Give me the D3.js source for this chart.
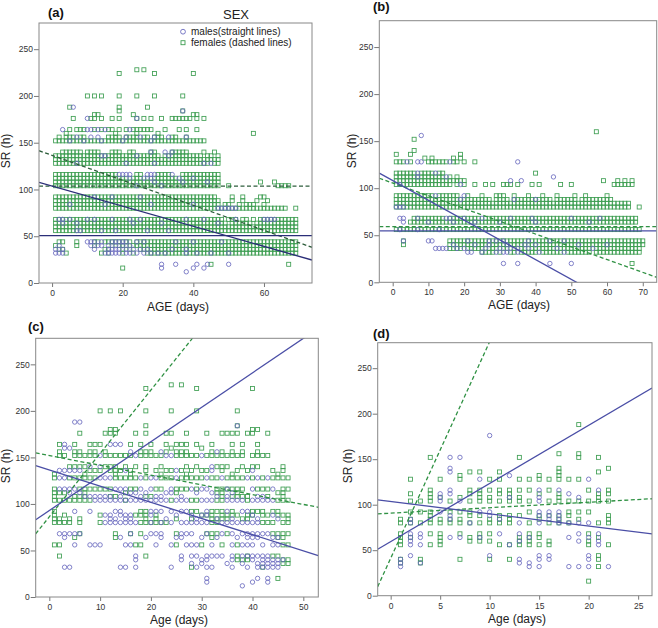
<!DOCTYPE html>
<html><head><meta charset="utf-8">
<script src="https://cdn.jsdelivr.net/npm/d3@7/dist/d3.min.js"></script>
<style>
body{margin:0;background:#fff;}
svg{display:block;font-family:"Liberation Sans",Arial,sans-serif;}
</style></head>
<body>
<svg id="chart" width="658" height="628"></svg>
<script>
// ---------------- DATA ----------------
const yTicks = [0, 50, 100, 150, 200, 250];
const aXTicks = [0, 20, 40, 60];
const bXTicks = [0, 10, 20, 30, 40, 50, 60, 70];
const cXTicks = [0, 10, 20, 30, 40, 50];
const dXTicks = [0, 5, 10, 15, 20, 25];
const panelLabels = ["(a)", "(b)", "(c)", "(d)"];
const xTitles = ["AGE (days)", "AGE (days)", "Age (days)", "Age (days)"];
const yTitle = "SR (h)";
const legendTitle = "SEX";
const legendItems = ["males(straight lines)", "females (dashed lines)"];

// rows: [SR (h), [ages in days]]
const aFemales = [
 [228,[24,26]],[224,[19,29,40]],[200,[10,12,14,19,24,29,37]],[188,[5,19,27]],[184,[19,37]],
 [180,[12,13,23,40,41]],[176,[6,11,12,14,17,19,24,26,28,31,34,35,36,37,38,39,41,43]],
 [164,[5,7,8,9,12,14,16,17,19,21,23,24,25,26,27,28,32,36,38,41]],[160,[4,18,24,30,57]],
 [156,[2,4,5,6,8,9,16,17,18,19,21,22,23,24,26,27,29,30,31,34,35,38]],
 [152,[1,2,3,4,5,6,7,8,9,10,11,12,13,14,15,16,17,18,19,20,21,22,23,24,25,26,27,28,29,30,31,32,33,34,35,36,37,38,39,40,41,42,43]],
 [140,[3,4,5,6,7,8,10,11,12,13,17,18,19,22,23,28,29,34,35,36,37,38,43,46]],
 [136,[1,2,3,4,5,6,7,8,9,10,11,12,13,14,15,16,17,18,19,20,21,22,23,24,25,26,27,28,29,30,32,33,34,35,36,37,38,39,40,41,42,44,45,47]],
 [132,[1,2,3,4,5,6,7,8,9,10,11,12,13,14,15,16,17,18,19,20,21,22,23,24,25,26,27,28,29,30,31,32,33,34,35,36,37,38,39,40,41,42,43,44,45,46,47]],
 [128,[1,2,3,4,5,6,7,8,9,10,11,12,13,14,15,16,17,18,19,20,21,22,23,24,25,26,27,28,29,30,31,32,33,34,35,36,37,38,39,40,41,42,43,44,46,47]],
 [116,[1,2,3,4,5,6,7,8,9,10,11,12,13,14,15,16,17,18,24,25,30,31,32,33,37,38,39,40,41,42,43,44,45,46,47]],
 [112,[1,2,3,4,5,6,7,8,9,10,11,12,13,14,15,16,17,18,19,20,21,23,24,25,27,29,30,31,32,33,34,35,37,38,39,40,41,42,43,44,45,46,47]],
 [108,[1,2,3,4,5,6,7,8,9,10,11,12,13,14,15,16,17,18,19,20,21,22,23,24,25,26,27,28,29,30,31,32,33,34,35,36,37,38,39,40,41,42,43,44,45,46,47,59,63]],
 [104,[1,2,3,4,5,6,7,8,9,10,11,12,13,14,15,16,17,18,19,20,21,22,23,24,25,26,27,28,29,30,31,32,33,34,35,36,37,38,39,40,41,42,43,44,45,46,47,50,64,65,66,67]],
 [92,[1,2,3,4,5,6,7,8,9,10,11,12,13,14,15,16,17,18,19,20,21,22,23,24,25,26,27,28,29,30,31,32,33,34,35,36,37,38,39,40,41,42,43,44,45,46,51,54,59,60]],
 [88,[1,2,3,4,5,6,7,8,9,10,11,12,13,14,15,16,17,18,19,20,21,22,23,24,25,26,27,28,29,30,31,32,33,34,35,36,37,38,39,40,41,42,43,44,45,46,47,51,54,58,61]],
 [84,[1,2,3,4,5,6,7,8,9,10,11,12,13,14,15,16,17,18,19,20,21,22,23,24,25,26,27,28,29,30,31,32,33,34,35,36,37,38,39,40,41,42,43,44,45,46,47,49,50,53,55,56,57,60]],
 [80,[1,2,3,4,5,6,7,8,9,10,11,12,13,14,15,16,17,18,19,20,21,22,23,24,25,26,27,28,29,30,31,32,33,34,35,36,37,38,39,40,41,42,43,44,45,46,47,48,49,50,51,52,53,54,55,56,57,58,59,60,61,62,63,64,65,66,69]],
 [68,[1,2,3,4,5,6,7,8,9,10,11,12,13,14,15,16,17,18,19,20,21,22,23,24,25,26,27,28,29,30,31,32,33,34,35,36,37,38,39,40,41,42,43,44,45,46,47,48,50,51,52,54,55,57,59,60,61,62,63,64,65,66,67,68,69]],
 [64,[1,2,3,4,5,6,7,8,9,10,11,12,13,14,15,16,17,18,19,20,21,22,23,24,25,26,27,28,29,30,31,32,33,34,35,36,37,38,39,40,41,42,43,44,45,46,47,48,49,51,52,53,54,55,56,58,59,60,61,62,63,64,65,66,67,68,69]],
 [60,[1,2,3,4,5,6,7,8,9,10,11,12,13,14,15,16,17,18,19,20,21,22,23,24,25,26,27,28,29,30,31,32,33,34,35,36,37,38,39,40,41,42,43,44,45,46,47,48,49,50,51,52,53,54,55,56,57,58,59,60,61,62,63,64,65,66,67,68,69]],
 [56,[1,2,3,4,5,6,7,8,9,10,11,12,13,14,15,16,17,18,19,20,21,22,23,24,25,26,27,28,29,30,31,32,33,34,35,36,37,38,39,40,41,42,43,44,45,46,47,48,49,50,51,52,53,54,55,56,57,58,59,60,61,62,63,64,65,66,67,68,69]],
 [44,[2,3,7,12,13,15,16,17,18,19,20,21,22,24,25,26,27,28,29,30,31,32,33,34,35,36,37,38,39,40,41,42,43,44,45,46,47,48,49,50,51,52,53,54,55,56,57,58,59,60,61,62,63,64,65,66,67,68,69]],
 [40,[1,7,12,17,19,20,21,23,24,25,26,27,28,29,30,31,32,33,34,35,36,37,38,39,40,41,42,43,44,45,46,47,48,49,50,51,52,53,54,55,56,57,58,59,60,61,62,63,64,65,66,67,68,69]],
 [36,[2,3,15,16,20,22,25,26,27,28,29,30,31,32,33,34,35,36,37,38,39,40,41,42,43,44,45,46,47,48,49,50,51,52,53,54,55,56,57,58,59,60,61,62,63,64,65,66,67,68,69]],
 [32,[4,14,16,20,23,27,28,29,30,31,32,33,34,35,36,37,38,39,40,41,42,43,44,45,46,47,48,49,50,51,52,53,54,55,56,57,58,59,60,61,62,63,64,65,66,67,68,69]],
 [20,[45,67]],[16,[20]]
];
const aMales = [
 [188,[6]],[184,[37]],[176,[10,24]],[164,[3,10,11,13,15,22]],[156,[7,11,13,21,25,29,33,38]],
 [152,[5,9,14,20,28]],[140,[28,32,34]],[136,[14,15,24,33]],[128,[7,21,29,43,45]],
 [116,[19,20,21,22,27,28,29,34]],[112,[22,26,28,36,40]],[108,[29,37,44]],[104,[24,31]],
 [92,[12,17,25]],[84,[5,15,28,40]],[80,[47,48,49,50,51,52]],
 [68,[2,3,5,10,12,17,22,25,38,43,52,60,61,62,63]],[64,[3,7,23,31,47]],[56,[7,8,14,18,27,33]],
 [44,[10,11,12,14,17,18,19,20,21,24,26,35,40,48]],[40,[2,11,13,14,16,18,20,22]],
 [36,[1,3,12,16,17,18,19,21,23,25,27,34,38]],
 [32,[1,2,3,15,16,17,18,19,21,22,24,26,28,30,32,38,41,45,50]],
 [20,[31,35,41,44,50]],[16,[31,40,43]],[12,[38]]
];
const bFemales = [
 [160,[57]],[152,[6]],[140,[6]],[136,[1,5,19]],[132,[9,11,17,19]],
 [128,[1,2,3,5,10,11,12,13,14,15,17,18,20,23]],
 [116,[1,2,3,4,5,6,8,9,10,11,13,14,40]],
 [112,[1,2,3,4,5,6,7,8,9,10,11,12,13,14,16,18]],
 [108,[1,2,3,4,5,6,7,8,9,10,11,12,13,14,15,16,17,18,19,20,59,63,65,67]],
 [104,[1,2,3,4,5,6,7,8,9,10,11,12,13,14,15,16,18,20,23,26,28,31,32,33,35,39,41,47,50,62,63,64,65,66,67]],
 [92,[1,2,3,4,5,6,7,8,9,10,11,13,14,15,16,17,18,21,25,29,30,31,34,38,42,46,51,54,60]],
 [88,[1,2,3,4,5,6,7,8,9,10,11,12,13,14,15,16,17,18,19,20,21,22,23,24,25,26,27,29,30,31,32,34,35,36,37,38,39,40,41,42,43,44,46,47,48,49,50,51,53,54,55,56,57,58,59,60,61]],
 [84,[1,2,3,4,5,6,7,8,9,10,11,12,13,14,15,16,17,18,19,20,21,22,23,24,25,26,27,28,29,30,31,32,33,34,35,36,37,38,39,40,41,42,43,44,45,46,47,48,49,50,51,52,53,54,55,56,57,58,59,60,61,62,63,64,65,66]],
 [80,[1,2,3,4,5,6,7,8,9,10,11,12,13,14,15,16,17,18,19,20,21,22,23,24,25,26,27,28,29,30,31,32,33,34,35,36,37,38,39,40,41,42,43,44,45,46,47,48,49,50,51,52,53,54,55,56,57,58,59,60,61,62,63,64,65,66,69]],
 [68,[6,7,8,9,10,11,12,13,14,16,17,18,19,20,21,22,23,24,26,27,28,29,30,31,32,33,34,35,36,37,38,39,40,41,42,43,44,45,46,47,48,49,50,51,52,53,54,55,56,57,58,59,60,61,62,63,64,65,66,67,68]],
 [64,[5,6,7,8,9,10,11,12,13,14,15,16,17,18,19,20,21,22,23,24,25,26,27,28,29,30,31,32,33,34,35,36,37,38,39,40,41,42,43,44,45,46,47,48,49,50,51,52,53,54,55,56,57,58,59,60,61,62,63,64,65,66,67,68]],
 [56,[1,2,3,4,5,6,7,8,9,10,11,12,13,14,15,16,17,18,19,20,21,22,23,24,25,26,27,28,29,30,31,32,33,34,35,36,37,38,39,40,41,42,43,44,45,46,47,48,49,50,51,52,53,54,55,56,57,58,59,60,61,62,63,64,65,66,67,68,69]],
 [44,[3,16,17,18,19,20,21,22,23,24,25,26,27,28,29,30,31,32,33,34,35,36,37,38,39,40,41,42,43,44,45,46,47,48,49,50,51,52,53,54,55,56,57,58,59,60,61,62,63,64,65,66,67,68,69,70]],
 [40,[3,16,17,18,19,20,21,22,23,24,25,26,27,28,29,30,31,32,33,34,35,36,37,38,39,40,41,42,43,44,45,46,47,48,49,50,51,52,53,54,55,56,57,58,59,60,61,62,63,64,65,66,67,68,69,70]],
 [36,[16,17,18,19,21,22,23,24,25,27,28,29,31,32,34,36,37,39,40,41,42,43,44,45,47,48,49,50,51,52,53,54,55,57,58,59,60,61,62,63,64,65,66,67,68,69]],
 [32,[25,26,27,28,30,33,34,36,37,38,39,40,42,43,44,45,46,47,49,50,51,52,53,54,55,57,58,59,60,61,62,63,64,65,66,67,68,69]],
 [20,[67]]
];
const bMales = [
 [156,[8]],[128,[4,7,8,16,35]],[116,[7,12]],[112,[7,15,45]],[108,[33,36]],[104,[2,19]],
 [92,[12,20]],[88,[19,34,40]],[80,[1,2,3]],[68,[2,3,7,15,16,20,25,33,39,50,58]],
 [64,[3,10,17,23,30,40,55]],[56,[2,7,13]],[44,[3,10,11,21,27,29,31,38,44,48]],
 [40,[17,23,27,32,37,40,52,60]],[36,[12,13,14,15,18,20,26,30,33,35,38,46,56]],
 [32,[21,22,25,29,31,32,35,41,48]],[20,[31,35,44,50]]
];
const cFemales = [
 [228,[24,26]],[224,[19,29,40]],[200,[10,12,14,19,24,29,37]],[184,[19,37]],[180,[12,13,40,41]],
 [176,[6,11,12,13,17,19,23,24,27,31,34,35,36,37,39,40,43]],
 [164,[2,5,8,9,10,16,18,20,23,25,26,27,29,32,36,38,41]],[160,[24,30]],
 [156,[2,5,6,8,9,11,18,19,20,23,25,26,27,32,34,36,38,41]],
 [152,[2,3,5,6,7,8,9,11,12,13,14,15,16,18,19,20,21,22,25,26,27,28,29,31,32,33,34,35,36,37,38,40,41,42,43]],
 [140,[4,5,6,7,11,12,13,15,17,19,22,27,29,33,34,35,38,40,41,46]],
 [136,[8,9,10,12,13,14,16,19,21,23,24,26,28,30,31,34,37,39,44,46]],
 [132,[1,7,13,16,22,27,36,45]],
 [128,[1,4,5,6,7,8,9,13,14,15,16,17,19,22,23,24,26,27,28,29,30,32,33,35,36,37,38,40,42,44,45,46,47]],
 [116,[1,6,7,8,9,10,11,12,16,17,21,22,25,26,27,29,33,34,35,36,37,38,41,42,43,46,47]],
 [112,[1,2,3,7,15,25,33,34,37,45,46]],
 [108,[1,5,6,7,12,13,19,20,34,36,37,38,39,43,46]],
 [104,[1,2,3,4,5,6,7,8,15,24,28,29,33,34,39,45,46,47]],
 [92,[1,18,19,28,29,32,33,34,36,40,41,42,44,45]],
 [88,[1,3,10,17,18,19,21,30,31,32,34,35,36,37,39,40,42,43,45,46,47]],
 [84,[1,2,4,6,19,21,25,28,32,33,34,35,38,39,47]],
 [80,[1,2,3,4,6,10,18,19,20,21,22,23,32,33,42,43,44,46,47]],
 [68,[6,13,16,18,25,31,32,33,35,44,45,46,47]],[64,[5,13,32,45,46]],
 [56,[1,2,17,18,25,30,34,37,46,47]],[44,[2,19,37,39,44,45]],[40,[37,38,39,46,47]],
 [36,[46,47]],[32,[28,42]],[20,[45]]
];
const cMales = [
 [188,[5,6]],[184,[37]],[164,[3,12,13,14]],[160,[3,4]],[156,[16,22,33]],[152,[10,17,23,24,30]],
 [140,[8,10,32]],[136,[2,3,4,5,6,15,25,32,40]],[128,[2,3,10,11,12,18,20,21,25,31,34,39,41,43]],
 [116,[2,3,4,5,13,14,15,18,20,24,28,30,31,35,40,44]],[112,[4,6,16,17,19,23,24,29,32,36]],
 [108,[7,8,9,10,11,12,14,18,21,22,26,33,35,41,42]],
 [104,[9,10,11,12,13,14,15,16,17,18,19,20,21,22,23,25,26,27,30,31,32,35,36,37,38,40,41,42,43,44]],
 [92,[5,8,13,14,20,21,22,24,26,27,31,35,38,39]],[88,[11,12,14,15,16,20,25,28,30,31,40,44]],
 [84,[12,13,15,16,23,29,33,36,41,45]],
 [80,[11,12,13,14,15,16,17,20,22,24,26,27,28,29,30,31,34,35,36,37,38,39,40,41]],
 [68,[2,3,4,5,6,16,20,21,22,26,27,28,31,34,36,38,39,40,41,42,43]],
 [64,[3,14,19,22,25,26,30,33,37,39,40,41,44,45]],
 [56,[5,8,9,10,15,16,21,24,27,28,29,32,36,38,39,40,42,44,45]],
 [44,[17,26,28,29,31,32,33,34,36,38,39,40,41,42,43]],[40,[17,26,30,31,36,40,42,43,44,45,46]],
 [36,[28,30,35,38,41,42,43,44,45]],[32,[3,4,14,15,17,24,29,31,32,36,39,41,42,43,44,45]],
 [20,[31,41,43]],[16,[31,40,43]],[12,[38]]
];
const dFemales = [
 [188,[19]],[156,[17,19]],[152,[4,13,19,21]],[140,[17,22]],[136,[8,9,11,17,21]],[132,[7,15,17]],
 [128,[2,5,7,10,11,13,14,15,16,17,18,19]],[116,[4,8,9,10,11,12,13,14,16,20,22]],
 [112,[2,4,8,9,11,12,15,17,21,22]],[108,[4,5,7,9,10,12,13,17,21]],
 [104,[2,3,4,6,8,9,10,11,12,13,14,16,17,18,19,20,21,22]],[92,[2,3,4,6,7,8,14,18,19,20]],
 [88,[4,8,9,11,12,13,15,16,17,18,22]],[84,[1,2,4,5,6,7,10,11,12,15,17,19,22]],
 [80,[1,2,3,4,5,6,7,8,9,10,11,12,14,16,17,18,21,22]],[68,[1,4,5,7,9,10,14,15,20]],
 [64,[1,2,5,8,9,13,14,15,21]],[60,[1,5,8,9,10,13,14,16,20]],
 [56,[1,4,5,11,12,13,14,15,16,20,22]],[44,[21]],[40,[1,3,7,10,12,21]],[36,[1,3]],[32,[21]],[16,[20]]
];
const dMales = [
 [176,[10]],[152,[6,7]],[140,[6]],[136,[6]],[132,[12]],[128,[9,20]],[116,[6,15,17,21]],
 [112,[5,6,18]],[108,[5,12,15,19]],[104,[5,7,15]],[92,[5,9,10,15,16,17]],[88,[6,10,15,16,17]],
 [84,[2,6,11,16,17]],[80,[2,8,13,15,17,18,19,20]],[68,[2,3,11,13,19,21]],
 [64,[2,3,6,7,9,14,18,20]],[60,[2,13,19,21]],[56,[2,3,12,21]],[44,[2,10,15,16,20]],
 [40,[1,13,15,16,20]],[36,[1,3,13,14]],[32,[1,14,15,18,19,20,22]]
];
// fitted lines: [intercept, slope]
const aMaleFits = [[103.6, -1.074], [50.6, 0]];
const aFemaleFits = [[136.5, -1.336], [103.6, 0]];
const bMaleFits = [[108.1, -2.1], [54.6, 0]];
const bFemaleFits = [[105.5, -1.356], [59.1, 0]];
const cMaleFits = [[92.9, 3.70], [136.5, -1.738]];
const cFemaleFits = [[86.2, 6.81], [152.0, -1.05]];
const dMaleFits = [[59.4, 6.39], [103.5, -1.35]];
const dFemaleFits = [[41.1, 23.8], [90.7, 0.6]];

// ---------------- DRAWING ----------------
const svg = d3.select("#chart");
const FONT = '"Liberation Sans", Arial, sans-serif';
const circleColor = "#6b6bbf", squareColor = "#3e9e52";

const panels = [
 {key:"a", males:aMales, females:aFemales, mf:aMaleFits, ff:aFemaleFits, xt:aXTicks,
  L:39, R:312, T:23, B:283, xd:[-3.7,73.6], mCol:"#2b2e78", fCol:"#2e5e3c",
  lab:[48,17], xl:[178,311], yl:[10,151]},
 {key:"b", males:bMales, females:bFemales, mf:bMaleFits, ff:bFemaleFits, xt:bXTicks,
  L:379.3, R:656.7, T:20.7, B:282.3, xd:[-3.75,73.9], mCol:"#4a4ea6", fCol:"#2f9143",
  lab:[373,11], xl:[519,309], yl:[356,151]},
 {key:"c", males:cMales, females:cFemales, mf:cMaleFits, ff:cFemaleFits, xt:cXTicks,
  L:35.7, R:318.3, T:338.3, B:597, xd:[-2.68,52.95], mCol:"#4a4ea6", fCol:"#2f9143",
  lab:[28,331], xl:[179,624], yl:[10,466]},
 {key:"d", males:dMales, females:dFemales, mf:dMaleFits, ff:dFemaleFits, xt:dXTicks,
  L:377.7, R:652, T:342.7, B:595.7, xd:[-1.31,26.4], mCol:"#4a4ea6", fCol:"#2f9143",
  lab:[373,338], xl:[517,623], yl:[352,466]}
];

function flatten(rows){ const out=[]; rows.forEach(([sr,ages])=>ages.forEach(a=>out.push({age:a,sr:sr}))); return out; }

panels.forEach((p,i)=>{
  const x = d3.scaleLinear().domain(p.xd).range([p.L,p.R]);
  const y = d3.scaleLinear().domain([0,278]).range([p.B,p.T]);
  const g = svg.append("g");
  const clipId = "clip"+p.key;
  svg.append("clipPath").attr("id",clipId).append("rect")
    .attr("x",p.L).attr("y",p.T).attr("width",p.R-p.L).attr("height",p.B-p.T);

  // axes
  const ya = g.append("g").attr("transform",`translate(${p.L},0)`)
    .call(d3.axisLeft(y).tickValues(yTicks).tickSize(5).tickPadding(1));
  const xa = g.append("g").attr("transform",`translate(0,${p.B})`)
    .call(d3.axisBottom(x).tickValues(p.xt).tickSize(4).tickPadding(3));
  [ya,xa].forEach(a=>{
    a.select(".domain").remove();
    a.selectAll("line").attr("stroke","#555").attr("stroke-width",0.8);
    a.selectAll("text").attr("fill","#333").style("font-size","8.5px").style("font-family",FONT);
  });

  const pts = g.append("g").attr("clip-path",`url(#${clipId})`);
  const sq = 4;
  pts.selectAll("rect.f").data(flatten(p.females)).join("rect")
    .attr("x",d=>x(d.age)-sq/2).attr("y",d=>y(d.sr)-sq/2).attr("width",sq).attr("height",sq)
    .attr("fill","none").attr("stroke",squareColor).attr("stroke-width",0.85);
  pts.selectAll("circle.m").data(flatten(p.males)).join("circle")
    .attr("cx",d=>x(d.age)).attr("cy",d=>y(d.sr)).attr("r",2.2)
    .attr("fill","none").attr("stroke",circleColor).attr("stroke-width",0.85);

  const line = d3.line().x(d=>x(d[0])).y(d=>y(d[1]));
  const fitPts = f => p.xd.map(v=>[v, f[0]+f[1]*v]);
  p.ff.forEach(f=>{
    pts.append("path").attr("d",line(fitPts(f))).attr("fill","none")
      .attr("stroke",p.fCol).attr("stroke-width",1.3).attr("stroke-dasharray","4,2.5");
  });
  p.mf.forEach(f=>{
    pts.append("path").attr("d",line(fitPts(f))).attr("fill","none")
      .attr("stroke",p.mCol).attr("stroke-width",1.3);
  });

  // frame
  g.append("rect").attr("x",p.L).attr("y",p.T).attr("width",p.R-p.L).attr("height",p.B-p.T)
    .attr("fill","none").attr("stroke","#888").attr("stroke-width",1);

  // labels
  g.append("text").attr("x",p.lab[0]).attr("y",p.lab[1]).text(panelLabels[i])
    .style("font-size","13px").style("font-weight","bold").attr("fill","#111");
  g.append("text").attr("x",p.xl[0]).attr("y",p.xl[1]).attr("text-anchor","middle")
    .text(xTitles[i]).style("font-size","12px").attr("fill","#222");
  g.append("text").attr("transform",`translate(${p.yl[0]},${p.yl[1]}) rotate(-90)`)
    .attr("text-anchor","middle").text(yTitle).style("font-size","12px").attr("fill","#222");
});

// legend in panel (a)
svg.append("text").attr("x",236).attr("y",19).attr("text-anchor","middle").text(legendTitle)
  .style("font-size","13px").attr("fill","#222");
svg.append("circle").attr("cx",183).attr("cy",31.7).attr("r",2.4).attr("fill","none")
  .attr("stroke",circleColor).attr("stroke-width",0.9);
svg.append("rect").attr("x",181).attr("y",40.7).attr("width",4).attr("height",4).attr("fill","none")
  .attr("stroke",squareColor).attr("stroke-width",0.9);
svg.append("text").attr("x",191).attr("y",35.3).text(legendItems[0]).style("font-size","10px").attr("fill","#222");
svg.append("text").attr("x",191).attr("y",46.3).text(legendItems[1]).style("font-size","10px").attr("fill","#222");
</script>
</body></html>
